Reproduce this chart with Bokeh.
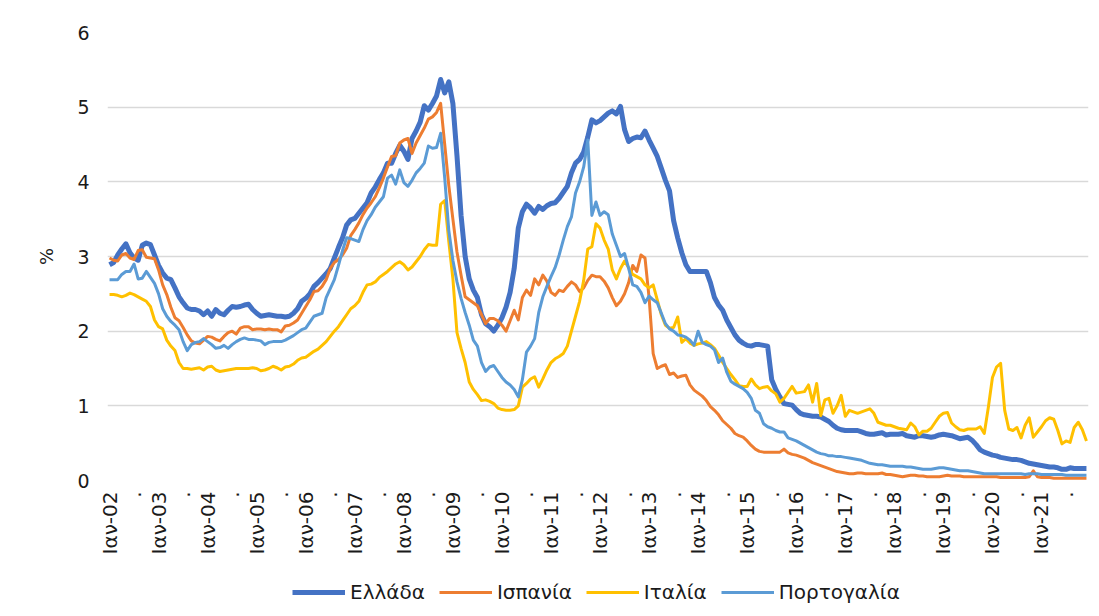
import math
from bokeh.plotting import figure
from bokeh.layouts import column
from bokeh.models import FixedTicker, Legend, LegendItem, ColumnDataSource, Range1d
from bokeh.embed import file_html
from bokeh.resources import INLINE

# ---------------- data (monthly, Jan-2002 .. Dec-2021) ----------------
start_year = 2002
n_months = 240
series_names = ["Ελλάδα", "Ισπανία", "Ιταλία", "Πορτογαλία"]
series_colors = ["#4472C4", "#ED7D31", "#FFC000", "#5B9BD5"]

greece = [
    2.89, 2.92, 3.02, 3.10, 3.17, 3.05, 2.98, 2.95, 3.15, 3.18, 3.16, 3.02,
    2.88, 2.78, 2.71, 2.69, 2.58, 2.46, 2.38, 2.31, 2.29, 2.29, 2.27, 2.22,
    2.27, 2.20, 2.29, 2.24, 2.22, 2.28, 2.33, 2.32, 2.33, 2.35, 2.36, 2.29,
    2.24, 2.20, 2.21, 2.22, 2.21, 2.20, 2.20, 2.19, 2.20, 2.24, 2.30, 2.40,
    2.44, 2.50, 2.60, 2.65, 2.71, 2.77, 2.84, 2.98, 3.12, 3.25, 3.42, 3.49,
    3.51, 3.58, 3.65, 3.72, 3.85, 3.93, 4.03, 4.12, 4.25, 4.25, 4.38, 4.49,
    4.41, 4.30, 4.58, 4.68, 4.80, 5.02, 4.96, 5.05, 5.15, 5.37, 5.19, 5.34,
    5.05, 4.35, 3.55, 3.00, 2.70, 2.55, 2.45, 2.22, 2.10, 2.06, 2.00, 2.08,
    2.18, 2.32, 2.52, 2.84, 3.38, 3.60, 3.70, 3.65, 3.58, 3.67, 3.63, 3.68,
    3.71, 3.72, 3.78, 3.86, 3.94, 4.12, 4.25, 4.30, 4.40, 4.60, 4.83, 4.79,
    4.82, 4.87, 4.92, 4.95, 4.91, 5.01, 4.70, 4.54, 4.58, 4.60, 4.59, 4.68,
    4.56, 4.45, 4.34, 4.18, 4.02, 3.88, 3.48, 3.25, 3.05, 2.89, 2.80, 2.80,
    2.80, 2.80, 2.80, 2.65, 2.45, 2.35, 2.28, 2.15, 2.05, 1.95, 1.88, 1.84,
    1.81, 1.80, 1.82, 1.82, 1.81, 1.80, 1.35, 1.22, 1.12, 1.03, 1.02, 1.01,
    0.95, 0.90, 0.88, 0.87, 0.86, 0.86, 0.85, 0.82, 0.79, 0.74, 0.70, 0.68,
    0.67, 0.67, 0.67, 0.67, 0.65, 0.63, 0.62, 0.62, 0.63, 0.64, 0.61, 0.62,
    0.62, 0.62, 0.63, 0.60, 0.59, 0.58, 0.60, 0.60, 0.59, 0.58, 0.59, 0.61,
    0.62, 0.61, 0.60, 0.58, 0.56, 0.57, 0.58, 0.54, 0.48, 0.41, 0.38, 0.36,
    0.34, 0.33, 0.31, 0.30, 0.29, 0.28, 0.28, 0.27, 0.25, 0.23, 0.22, 0.21,
    0.20, 0.19, 0.18, 0.18, 0.17, 0.15, 0.15, 0.17, 0.16, 0.16, 0.16, 0.16,
]

spain = [
    2.98, 2.95, 2.94, 3.02, 3.04, 2.98, 2.96, 3.08, 3.09, 2.99, 2.98, 2.97,
    2.82, 2.62, 2.49, 2.32, 2.18, 2.14, 2.05, 1.95, 1.87, 1.84, 1.83, 1.88,
    1.93, 1.92, 1.89, 1.87, 1.93, 1.98, 2.00, 1.96, 2.04, 2.06, 2.06, 2.02,
    2.03, 2.03, 2.02, 2.03, 2.02, 2.02, 1.99, 2.07, 2.08, 2.11, 2.15, 2.24,
    2.33, 2.42, 2.53, 2.54, 2.60, 2.69, 2.84, 2.92, 2.96, 3.02, 3.11, 3.28,
    3.36, 3.45, 3.56, 3.65, 3.72, 3.80, 3.92, 4.05, 4.20, 4.34, 4.35, 4.52,
    4.56, 4.58, 4.38, 4.52, 4.62, 4.72, 4.84, 4.87, 4.93, 5.05, 4.50, 3.95,
    3.50, 3.06, 2.75, 2.46, 2.42, 2.38, 2.34, 2.22, 2.10, 2.17, 2.17, 2.14,
    2.08, 2.00, 2.14, 2.28, 2.15, 2.45, 2.55, 2.48, 2.70, 2.62, 2.75, 2.67,
    2.52, 2.48, 2.55, 2.53, 2.60, 2.66, 2.62, 2.53, 2.58, 2.68, 2.75, 2.73,
    2.73, 2.67, 2.58, 2.45, 2.34, 2.40, 2.50, 2.65, 2.88, 2.80, 3.02, 2.98,
    2.45, 1.70, 1.50, 1.53, 1.55, 1.42, 1.44, 1.38, 1.40, 1.41, 1.28, 1.21,
    1.17, 1.13, 1.07, 0.99, 0.94, 0.88, 0.80, 0.75, 0.70, 0.63, 0.60, 0.58,
    0.53, 0.47, 0.42, 0.39, 0.38, 0.38, 0.38, 0.38, 0.38, 0.42, 0.37, 0.35,
    0.34, 0.32, 0.30, 0.27, 0.24, 0.22, 0.20, 0.18, 0.16, 0.14, 0.12, 0.11,
    0.10, 0.09, 0.09, 0.10, 0.10, 0.09, 0.09, 0.09, 0.09, 0.10, 0.08, 0.08,
    0.07, 0.06, 0.05, 0.06, 0.07, 0.07, 0.06, 0.06, 0.05, 0.05, 0.05, 0.05,
    0.06, 0.07, 0.06, 0.06, 0.06, 0.05, 0.05, 0.05, 0.05, 0.05, 0.05, 0.05,
    0.05, 0.05, 0.04, 0.04, 0.04, 0.04, 0.04, 0.04, 0.04, 0.05, 0.13, 0.05,
    0.04, 0.04, 0.04, 0.03, 0.03, 0.03, 0.03, 0.03, 0.03, 0.03, 0.03, 0.03,
]

italy = [
    2.49, 2.49, 2.48, 2.46, 2.48, 2.51, 2.49, 2.46, 2.43, 2.40, 2.33, 2.15,
    2.06, 2.03, 1.88, 1.80, 1.74, 1.58, 1.50, 1.50, 1.49, 1.50, 1.51, 1.48,
    1.52, 1.53, 1.48, 1.46, 1.47, 1.48, 1.49, 1.50, 1.50, 1.50, 1.50, 1.51,
    1.50, 1.47, 1.48, 1.50, 1.53, 1.51, 1.48, 1.52, 1.53, 1.56, 1.61, 1.64,
    1.65, 1.69, 1.73, 1.76, 1.81, 1.86, 1.93, 2.00, 2.06, 2.14, 2.22, 2.30,
    2.34, 2.40, 2.52, 2.62, 2.63, 2.66, 2.72, 2.76, 2.80, 2.85, 2.90, 2.93,
    2.89, 2.82, 2.86, 2.93, 3.00, 3.09, 3.16, 3.15, 3.15, 3.70, 3.75, 3.20,
    2.70, 1.98, 1.77, 1.58, 1.32, 1.22, 1.15, 1.07, 1.08, 1.06, 1.03, 0.97,
    0.95, 0.94, 0.94, 0.95, 1.00, 1.25, 1.30, 1.36, 1.39, 1.25, 1.36, 1.48,
    1.58, 1.63, 1.66, 1.70, 1.80, 2.00, 2.20, 2.40, 2.68, 3.10, 3.13, 3.44,
    3.38, 3.22, 3.10, 2.82, 2.70, 2.84, 2.94, 2.85, 2.76, 2.73, 2.70, 2.62,
    2.58, 2.62, 2.42, 2.22, 2.08, 2.04, 2.05, 2.19, 1.85, 1.90, 1.84, 1.81,
    1.83, 1.84, 1.86, 1.82, 1.77, 1.68, 1.58, 1.50, 1.42, 1.35, 1.27, 1.26,
    1.26, 1.36, 1.28, 1.23, 1.25, 1.26, 1.20, 1.16, 1.05, 1.10, 1.18, 1.26,
    1.17, 1.18, 1.19, 1.28, 1.05, 1.30, 0.87, 1.08, 1.10, 0.90, 1.00, 1.14,
    0.86, 0.94, 0.92, 0.90, 0.92, 0.94, 0.96, 0.90, 0.78, 0.76, 0.74, 0.74,
    0.72, 0.70, 0.69, 0.68, 0.77, 0.72, 0.61, 0.66, 0.66, 0.70, 0.78, 0.86,
    0.90, 0.91, 0.77, 0.72, 0.68, 0.67, 0.69, 0.69, 0.69, 0.72, 0.63, 0.98,
    1.38, 1.52, 1.57, 0.94, 0.69, 0.67, 0.71, 0.57, 0.74, 0.84, 0.58, 0.65,
    0.72, 0.80, 0.84, 0.82, 0.67, 0.49, 0.53, 0.51, 0.71, 0.78, 0.68, 0.53,
]

portugal = [
    2.69, 2.69, 2.69, 2.76, 2.80, 2.80, 2.90, 2.70, 2.71, 2.80, 2.72, 2.64,
    2.50, 2.30, 2.20, 2.13, 2.08, 2.02, 1.86, 1.74, 1.82, 1.85, 1.86, 1.90,
    1.86, 1.82, 1.77, 1.78, 1.81, 1.77, 1.82, 1.86, 1.89, 1.91, 1.89, 1.89,
    1.88, 1.87, 1.82, 1.85, 1.86, 1.86, 1.86, 1.88, 1.91, 1.94, 1.98, 2.02,
    2.04, 2.12, 2.20, 2.22, 2.24, 2.45, 2.57, 2.69, 2.88, 3.08, 3.25, 3.24,
    3.22, 3.20, 3.36, 3.48, 3.56, 3.66, 3.73, 3.80, 4.05, 4.09, 3.97, 4.16,
    3.99, 3.94, 4.02, 4.12, 4.18, 4.25, 4.48, 4.45, 4.46, 4.65, 4.05, 3.35,
    2.95, 2.66, 2.44, 2.25, 2.08, 1.88, 1.80, 1.58, 1.46, 1.52, 1.54, 1.46,
    1.38, 1.32, 1.28, 1.22, 1.12, 1.35, 1.72, 1.80, 1.90, 2.25, 2.46, 2.60,
    2.73, 2.85, 3.02, 3.22, 3.40, 3.53, 3.85, 4.00, 4.20, 4.56, 3.55, 3.73,
    3.55, 3.60, 3.56, 3.30, 3.15, 3.00, 3.04, 2.84, 2.62, 2.60, 2.52, 2.38,
    2.47, 2.42, 2.38, 2.24, 2.10, 2.03, 2.00, 1.95, 1.94, 1.92, 1.88, 1.81,
    2.00, 1.85, 1.82, 1.80, 1.75, 1.58, 1.64, 1.45, 1.33, 1.29, 1.26, 1.23,
    1.18, 1.10, 0.94, 0.90, 0.76, 0.72, 0.70, 0.67, 0.65, 0.65, 0.57, 0.55,
    0.53, 0.50, 0.47, 0.44, 0.41, 0.38, 0.36, 0.35, 0.33, 0.33, 0.32, 0.32,
    0.31, 0.30, 0.29, 0.28, 0.27, 0.25, 0.23, 0.22, 0.21, 0.21, 0.20, 0.19,
    0.19, 0.19, 0.19, 0.18, 0.18, 0.17, 0.16, 0.15, 0.15, 0.15, 0.16, 0.17,
    0.17, 0.16, 0.15, 0.14, 0.13, 0.13, 0.13, 0.12, 0.11, 0.10, 0.09, 0.09,
    0.09, 0.09, 0.09, 0.09, 0.09, 0.09, 0.09, 0.09, 0.08, 0.09, 0.09, 0.09,
    0.08, 0.08, 0.08, 0.08, 0.08, 0.08, 0.07, 0.07, 0.07, 0.07, 0.07, 0.07,
]

y_ticks = [0, 1, 2, 3, 4, 5, 6]
x_ticks = list(range(0, n_months, 6))
x_tick_labels = {
    m: ("Ιαν-%02d" % ((start_year + m // 12) % 100) if m % 12 == 0 else ".")
    for m in x_ticks
}

# ---------------- main figure ----------------
FONT = "DejaVu Sans"
TXT = "#1a1a1a"
W = 1092

months = list(range(n_months))
src = ColumnDataSource(dict(m=months, gr=greece, es=spain, it=italy, pt=portugal))

p = figure(
    width=W, height=575, output_backend="svg", toolbar_location=None,
    x_range=Range1d(-0.5, n_months - 0.5), y_range=Range1d(0, 6),
    min_border_left=107, min_border_right=4, min_border_top=32, min_border_bottom=95,
)
p.outline_line_color = None
p.background_fill_color = "white"
p.border_fill_color = "white"

p.xgrid.grid_line_color = None
p.ygrid.grid_line_color = "#D9D9D9"
p.ygrid.grid_line_width = 1.5

p.yaxis.ticker = FixedTicker(ticks=y_ticks)
p.yaxis.axis_line_color = None
p.yaxis.major_tick_line_color = None
p.yaxis.minor_tick_line_color = None
p.yaxis.major_label_text_font = FONT
p.yaxis.major_label_text_font_size = "19px"
p.yaxis.major_label_text_color = TXT
p.yaxis.major_label_standoff = 12
p.yaxis.axis_label = "%"
p.yaxis.axis_label_text_font = FONT
p.yaxis.axis_label_text_font_style = "normal"
p.yaxis.axis_label_text_font_size = "18px"
p.yaxis.axis_label_text_color = TXT
p.yaxis.axis_label_standoff = 17

p.xaxis.ticker = FixedTicker(ticks=x_ticks)
p.xaxis.major_label_overrides = x_tick_labels
p.xaxis.major_label_orientation = math.pi / 2
p.xaxis.axis_line_color = None
p.xaxis.major_tick_line_color = None
p.xaxis.minor_tick_line_color = None
p.xaxis.major_label_text_font = FONT
p.xaxis.major_label_text_font_size = "20px"
p.xaxis.major_label_text_color = TXT
p.xaxis.major_label_standoff = 5

cols = ["gr", "es", "it", "pt"]
widths = [5, 3, 3, 3]
for col, color, w in zip(cols, series_colors, widths):
    p.line("m", col, source=src, line_color=color, line_width=w, line_join="round")

# ---------------- legend strip (legend swatches only) ----------------
lg = figure(
    width=W, height=33, output_backend="svg", toolbar_location=None,
    x_range=Range1d(0, 1), y_range=Range1d(0, 1),
    x_axis_location=None, y_axis_location=None,
    min_border_left=107, min_border_right=4, min_border_top=0, min_border_bottom=0,
)
lg.outline_line_color = None
lg.xgrid.grid_line_color = None
lg.ygrid.grid_line_color = None
lg.border_fill_color = "white"

items = []
for name, color, w in zip(series_names, series_colors, widths):
    # swatch renderer placed outside the visible range: it only feeds the legend
    r = lg.line(x=[-5, -4], y=[-5, -5], line_color=color, line_width=w)
    items.append(LegendItem(label=name, renderers=[r]))

legend = Legend(
    items=items, orientation="horizontal", location=(185, 4),
    glyph_width=53, glyph_height=22, label_standoff=5, spacing=14,
    border_line_color=None, background_fill_alpha=0,
    label_text_font=FONT, label_text_font_size="20px", label_text_color=TXT,
    padding=0, margin=0,
)
lg.add_layout(legend, "center")

layout = column(p, lg, spacing=0)
open("out.html", "w").write(file_html(layout, INLINE))
